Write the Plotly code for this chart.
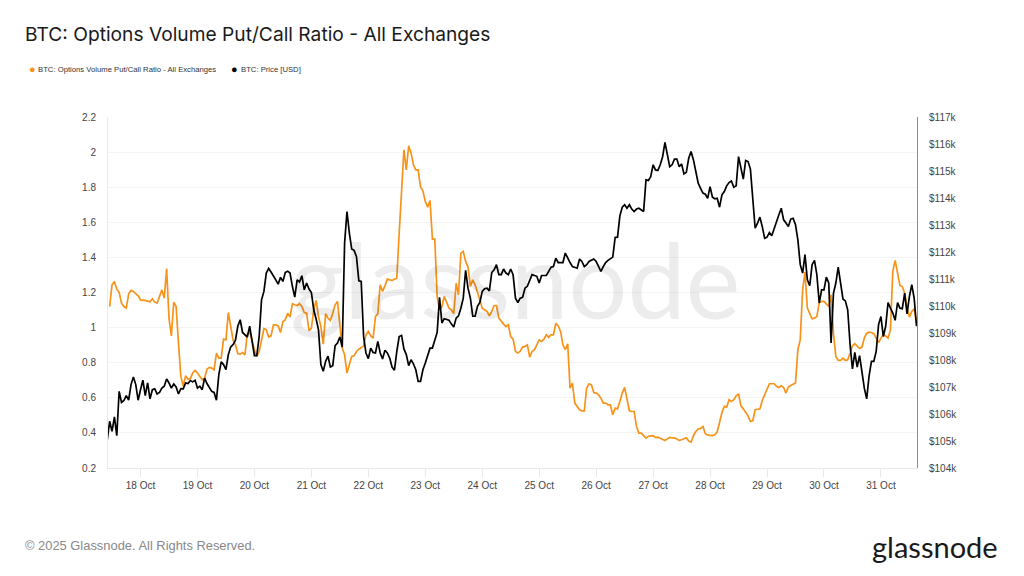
import pandas as pd
import plotly.graph_objects as go

# hourly readings, one list per day
ratio_oct17 = [1.12, 1.244, 1.263, 1.219, 1.20, 1.139, 1.12, 1.111, 1.191, 1.212, 1.206, 1.191, 1.181]
ratio_oct18 = [1.158, 1.158, 1.155, 1.151, 1.147, 1.164, 1.145, 1.139, 1.174, 1.215, 1.168, 1.335, 1.054, .953, 1.145, 1.12, .911, .722, .665, .725, .706, .71, .741, .756]
ratio_oct19 = [.741, .718, .703, .712, .763, .773, .769, .76, .855, .826, .826, .934, .93, 1.086, 1.006, .93, .902, .851, .849, .858, .845, .965, .972, .93]
ratio_oct20 = [.87, .836, .864, .93, .995, .987, .946, .953, 1.016, 1.016, 1.01, .972, 1.035, 1.044, 1.082, 1.06, 1.136, 1.13, 1.126, 1.136, 1.12, 1.086, 1.082, .982]
ratio_oct21 = [.997, 1.101, 1.155, 1.063, 1.006, .906, 1.079, 1.054, 1.041, 1.082, 1.13, 1.149, 1.025, .883, .845, .741, .788, .836, .839, .864, .877, .889, .896, .959]
ratio_oct22 = [.978, .953, .94, 1.063, 1.079, 1.244, 1.206, 1.238, 1.276, 1.272, 1.269, 1.276, 1.282, 1.538, 1.785, 2.013, 1.899, 2.036, 1.994, 1.928, 1.899, 1.899, 1.8, 1.779]
ratio_oct23 = [1.719, 1.686, 1.724, 1.504, 1.504, 1.177, 1.101, 1.12, 1.177, 1.139, 1.111, 1.101, 1.079, 1.253, 1.187, 1.424, 1.434, 1.377, 1.345, 1.234, 1.272, 1.244, 1.206, 1.158]
ratio_oct24 = [1.111, 1.101, 1.092, 1.067, 1.092, 1.126, 1.126, 1.054, 1.035, 1.02, 1.006, 1.016, .949, .934, .864, .855, .866, .889, .893, .902, .832, .864, .874, .902]
ratio_oct25 = [.93, .921, .934, .959, .944, .959, .959, 1.025, 1.01, .978, .902, .874, .908, .655, .684, .57, .547, .532, .526, .526, .655, .68, .674, .63]
ratio_oct26 = [.627, .617, .598, .57, .57, .56, .56, .503, .541, .537, .579, .627, .659, .589, .526, .522, .522, .437, .399, .399, .384, .37, .38, .38]
ratio_oct27 = [.384, .374, .376, .37, .361, .357, .366, .374, .372, .372, .365, .357, .361, .366, .372, .353, .347, .384, .408, .422, .425, .437, .395, .387]
ratio_oct28 = [.384, .384, .389, .406, .459, .516, .551, .547, .589, .579, .589, .611, .623, .554, .537, .518, .497, .465, .469, .532, .535, .537, .585, .617]
ratio_oct29 = [.64, .68, .68, .68, .665, .659, .668, .659, .627, .661, .67, .676, .684, .874, .93, 1.215, 1.316, 1.111, 1.082, 1.05, 1.054, 1.063, 1.143, 1.149]
ratio_oct30 = [1.149, 1.134, 1.12, 1.187, .968, .836, .813, .813, .826, .813, .817, .855, .896, .908, .893, .881, .889, .94, .968, .974, .972, .965, .94, .915]
ratio_oct31 = [.94, .959, .953, .94, .987, 1.32, 1.383, 1.31, 1.24, 1.234, 1.196, 1.117, 1.06, 1.092, 1.107, 1.025]

price_oct17 = [105.05, 105.73, 105.36, 105.89, 105.20, 106.84, 106.43, 106.50, 106.68, 106.51, 107.09, 107.37, 107.09, 106.51]
price_oct18 = [106.90, 107.25, 106.68, 107.15, 106.56, 106.90, 106.93, 106.74, 106.80, 106.96, 107.03, 107.30, 107.15, 106.96, 107.11, 107.0, 106.74, 106.94, 106.93, 107.15, 107.13, 107.24, 107.19, 107.25]
price_oct19 = [106.96, 107.03, 106.90, 107.33, 107.13, 106.96, 106.84, 106.80, 106.51, 107.46, 107.93, 107.83, 107.64, 108.20, 108.48, 108.57, 108.73, 109.25, 109.49, 109.02, 108.94, 108.85, 109.25, 108.75]
price_oct20 = [108.16, 108.16, 108.87, 110.23, 110.54, 111.22, 111.39, 111.26, 111.13, 110.97, 110.81, 111.06, 110.91, 111.24, 111.29, 111.22, 110.73, 110.33, 110.97, 110.89, 111.12, 110.60, 110.85, 110.63]
price_oct21 = [110.50, 109.86, 109.52, 109.12, 107.83, 107.58, 107.95, 108.14, 107.74, 107.79, 108.53, 108.63, 108.85, 108.48, 112.33, 113.50, 112.70, 112.11, 112.06, 111.83, 110.93, 110.91, 108.87, 108.26]
price_oct22 = [108.05, 108.44, 108.28, 108.26, 108.69, 108.26, 108.04, 108.36, 108.26, 108.07, 107.74, 107.62, 108.32, 108.87, 108.91, 108.41, 108.20, 107.79, 108.01, 107.86, 107.64, 107.21, 107.21, 107.64]
price_oct23 = [107.89, 108.20, 108.44, 108.44, 108.69, 109.02, 110.32, 109.37, 109.53, 109.49, 109.47, 109.33, 109.22, 109.55, 109.64, 109.92, 110.29, 111.32, 110.66, 110.29, 109.62, 109.62, 109.99, 110.13]
price_oct24 = [110.54, 110.64, 110.66, 110.56, 111.24, 111.34, 111.53, 111.16, 111.16, 111.37, 111.22, 111.16, 111.37, 111.16, 110.29, 110.13, 110.29, 110.32, 110.66, 110.73, 110.97, 111.16, 111.13, 111.10]
price_oct25 = [110.85, 111.13, 111.13, 111.13, 111.28, 111.44, 111.46, 111.77, 111.61, 111.61, 111.61, 111.96, 111.77, 111.61, 111.46, 111.43, 111.40, 111.74, 111.65, 111.46, 111.53, 111.65, 111.69, 111.74]
price_oct26 = [111.65, 111.49, 111.28, 111.46, 111.61, 111.69, 111.75, 111.81, 112.54, 112.55, 113.34, 113.66, 113.75, 113.62, 113.75, 113.59, 113.50, 113.59, 113.62, 113.56, 113.50, 114.67, 114.65, 114.79]
price_oct27 = [115.23, 115.04, 115.02, 115.23, 115.53, 116.06, 115.66, 115.16, 115.23, 115.44, 115.44, 115.16, 115.26, 114.89, 114.95, 115.47, 115.72, 115.41, 114.98, 114.55, 114.36, 114.18, 114.14, 113.99]
price_oct28 = [114.42, 114.03, 113.97, 113.99, 113.66, 114.12, 114.24, 114.45, 114.57, 114.63, 114.40, 114.45, 115.53, 115.10, 114.70, 115.39, 115.35, 115.07, 113.81, 112.88, 113.07, 113.29, 112.94, 112.51]
price_oct29 = [112.55, 112.72, 112.60, 112.88, 113.13, 113.38, 113.62, 113.19, 113.07, 112.94, 113.22, 113.25, 113.01, 112.45, 111.53, 111.22, 111.90, 110.97, 110.75, 111.53, 111.69, 111.16, 110.11, 110.60]
price_oct30 = [110.60, 111.07, 110.85, 108.63, 110.48, 110.85, 111.44, 110.85, 110.26, 110.19, 109.86, 108.57, 107.67, 108.28, 107.74, 108.16, 107.52, 106.96, 106.56, 107.40, 107.95, 107.95, 108.32, 109.31]
price_oct31 = [109.61, 108.87, 109.25, 110.13, 109.92, 109.74, 109.47, 110.13, 109.92, 109.90, 110.48, 109.71, 110.36, 110.79, 110.29, 109.25]

day_labels = ["18 Oct", "19 Oct", "20 Oct", "21 Oct", "22 Oct", "23 Oct", "24 Oct", "25 Oct", "26 Oct", "27 Oct", "28 Oct", "29 Oct", "30 Oct", "31 Oct"]
ratio_ticks = [0.2, 0.4, 0.6, 0.8, 1, 1.2, 1.4, 1.6, 1.8, 2, 2.2]
price_ticks = list(range(104, 118))

ratio = (ratio_oct17 + ratio_oct18 + ratio_oct19 + ratio_oct20 + ratio_oct21 + ratio_oct22 + ratio_oct23
         + ratio_oct24 + ratio_oct25 + ratio_oct26 + ratio_oct27 + ratio_oct28 + ratio_oct29 + ratio_oct30 + ratio_oct31)
price = (price_oct17 + price_oct18 + price_oct19 + price_oct20 + price_oct21 + price_oct22 + price_oct23
         + price_oct24 + price_oct25 + price_oct26 + price_oct27 + price_oct28 + price_oct29 + price_oct30 + price_oct31)

ratio_time = pd.date_range("2025-10-17 11:00", periods=len(ratio), freq="h")
price_time = pd.date_range("2025-10-17 10:00", periods=len(price), freq="h")
day_ticks = pd.date_range("2025-10-18", periods=len(day_labels), freq="D")

ORANGE = "#f7931a"
LEFT, RIGHT, TOP, BOTTOM = 107.5, 917, 117, 468


def px(x):
    return (x - LEFT) / (RIGHT - LEFT)


def py(y):
    return (BOTTOM - y) / (BOTTOM - TOP)


fig = go.Figure()
fig.add_trace(go.Scatter(x=ratio_time, y=ratio, mode="lines", name="BTC: Options Volume Put/Call Ratio - All Exchanges",
                         line=dict(color=ORANGE, width=1.7), showlegend=False))
fig.add_trace(go.Scatter(x=price_time, y=price, mode="lines", name="BTC: Price [USD]", yaxis="y2",
                         line=dict(color="#000000", width=1.7), showlegend=False))


def label(x, y, text, size, color, family="Liberation Sans", anchor="left"):
    fig.add_annotation(xref="paper", yref="paper", x=px(x), y=py(y), text=text, showarrow=False,
                       xanchor=anchor, yanchor="middle", font=dict(size=size, color=color, family=family))


label(22, 34, "BTC: Options Volume Put/Call Ratio - All Exchanges", 19.2, "#1a1a1a", family="Inter")
label(26, 69, "●", 11, ORANGE)
label(35, 69, "BTC: Options Volume Put/Call Ratio - All Exchanges", 7.7, "#333333")
label(229, 69, "●", 11, "#000000")
label(239, 69, "BTC: Price [USD]", 7.7, "#333333")
label(22, 545, "© 2025 Glassnode. All Rights Reserved.", 12.9, "#888888")
label(1000, 546, "glassnode", 29, "#1a1a1a", family="Lato", anchor="right")
label(515, 278, "glassnode", 104, "rgba(0,0,0,0.075)", family="Lato", anchor="center")

fig.update_layout(
    width=1024, height=576,
    margin=dict(l=LEFT, r=1024 - RIGHT, t=TOP, b=576 - BOTTOM),
    paper_bgcolor="white", plot_bgcolor="white",
    font=dict(family="Liberation Sans", size=10, color="#444444"),
    xaxis=dict(range=["2025-10-17 10:18", "2025-10-31 15:12"], tickvals=day_ticks, ticktext=day_labels,
               showgrid=False, showline=True, linecolor="#e8e8e8", ticks="outside", ticklen=8,
               tickcolor="#e8e8e8"),
    yaxis=dict(range=[0.2, 2.2], tickvals=ratio_ticks, ticktext=[str(t) for t in ratio_ticks],
               showgrid=True, gridcolor="#f3f3f3", zeroline=False, showline=True, linecolor="#fde6cc",
               ticks="outside", ticklen=9, tickcolor="white"),
    yaxis2=dict(range=[104, 117], overlaying="y", side="right", tickvals=price_ticks,
                ticktext=[f"${t}k" for t in price_ticks], showgrid=False, zeroline=False,
                showline=True, linecolor="#8c8c8c", ticks="outside", ticklen=9, tickcolor="white"),
)

fig.write_html("out.html", config=dict(displayModeBar=False), post_script="document.body.style.margin='0'")
